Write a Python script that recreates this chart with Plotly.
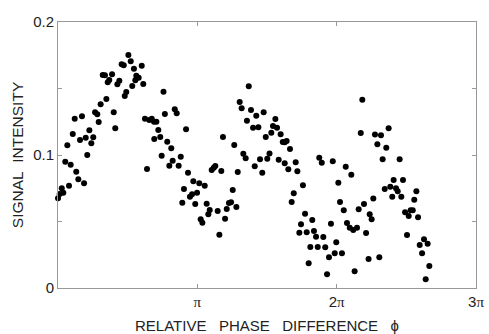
import plotly.graph_objects as go

# phase difference in units of pi, signal intensity
phase_over_pi = [
    0.000, 0.012, 0.027, 0.038, 0.079, 0.052, 0.091, 0.131, 0.146, 0.187,
    0.067, 0.106, 0.120, 0.172, 0.158, 0.199, 0.225, 0.210, 0.239, 0.253,
    0.266, 0.282, 0.292, 0.306, 0.347, 0.321, 0.337, 0.357, 0.368, 0.388,
    0.400, 0.411, 0.426, 0.440, 0.479, 0.490, 0.457, 0.472, 0.505, 0.522,
    0.545, 0.533, 0.562, 0.579, 0.555, 0.601, 0.612, 0.624, 0.639, 0.655,
    0.673, 0.689, 0.706, 0.720, 0.691, 0.734, 0.744, 0.757, 0.767, 0.784,
    0.813, 0.838, 0.852, 0.919, 0.823, 0.799, 0.866, 0.881, 0.933, 0.904,
    0.892, 0.947, 0.962, 0.985, 0.998, 0.971, 1.014, 1.053, 1.067, 1.089,
    1.079, 1.024, 1.036, 1.146, 1.158, 1.199, 1.211, 1.227, 1.242, 1.280,
    1.254, 1.103, 1.118, 1.129, 1.172, 1.184, 1.265, 1.290, 1.369, 1.304,
    1.318, 1.356, 1.385, 1.400, 1.423, 1.438, 1.476, 1.491, 1.330, 1.347,
    1.412, 1.450, 1.466, 1.502, 1.518, 1.531, 1.543, 1.560, 1.572, 1.598,
    1.613, 1.627, 1.641, 1.665, 1.584, 1.627, 1.653, 1.706, 1.718, 1.758,
    1.692, 1.677, 1.773, 1.744, 1.732, 1.785, 1.825, 1.837, 1.852, 1.811,
    1.864, 1.904, 1.918, 1.799, 1.945, 1.931, 1.959, 1.986, 1.997, 2.038,
    1.875, 1.893, 1.972, 2.012, 2.065, 2.105, 2.024, 2.051, 2.074, 2.094,
    2.119, 2.146, 2.158, 2.196, 2.211, 2.237, 2.251, 2.263, 2.184, 2.173,
    2.275, 2.129, 2.229, 2.292, 2.318, 2.330, 2.356, 2.373, 2.306, 2.452,
    2.345, 2.385, 2.399, 2.409, 2.426, 2.438, 2.464, 2.476, 2.491, 2.517,
    2.531, 2.546, 2.557, 2.572, 2.584, 2.505, 2.596, 2.613, 2.627, 2.653,
    2.665, 2.639,
]
intensity = [
    0.0674, 0.0707, 0.0750, 0.0717, 0.0769, 0.0950, 0.0927, 0.0874, 0.0817, 0.0787,
    0.1073, 0.1158, 0.1273, 0.1291, 0.1113, 0.1130, 0.1186, 0.1000, 0.1088, 0.1133,
    0.1321, 0.1306, 0.1248, 0.1381, 0.1421, 0.1602, 0.1599, 0.1547, 0.1564, 0.1607,
    0.1321, 0.1201, 0.1532, 0.1559, 0.1444, 0.1474, 0.1682, 0.1674, 0.1752, 0.1705,
    0.1649, 0.1519, 0.1596, 0.1581, 0.1562, 0.1671, 0.1534, 0.1273, 0.0895, 0.1263,
    0.1273, 0.1250, 0.1250, 0.1188, 0.1120, 0.1135, 0.0995, 0.1476, 0.1308, 0.1100,
    0.1050, 0.1344, 0.1314, 0.1193, 0.0957, 0.0920, 0.0920, 0.0987, 0.0867, 0.0744,
    0.0641, 0.0686, 0.0705, 0.0632, 0.0717, 0.0802, 0.0787, 0.0769, 0.0634, 0.0586,
    0.0554, 0.0517, 0.0491, 0.0579, 0.0401, 0.0521, 0.0594, 0.0639, 0.0644, 0.0609,
    0.0737, 0.0887, 0.0905, 0.0917, 0.0880, 0.1135, 0.1075, 0.0872, 0.1517, 0.1398,
    0.1351, 0.1258, 0.1338, 0.1205, 0.1295, 0.1208, 0.1321, 0.1135, 0.1010, 0.0975,
    0.0915, 0.0968, 0.0867, 0.0972, 0.1011, 0.1168, 0.1218, 0.1271, 0.1205, 0.1156,
    0.1098, 0.1095, 0.1105, 0.1045, 0.0965, 0.0938, 0.0892, 0.0945, 0.0877, 0.0772,
    0.0712, 0.0647, 0.0559, 0.0479, 0.0416, 0.0419, 0.0511, 0.0429, 0.0386, 0.0308,
    0.0308, 0.0383, 0.0306, 0.0186, 0.0231, 0.0103, 0.0483, 0.0261, 0.0344, 0.0261,
    0.0980, 0.0942, 0.0953, 0.0792, 0.0912, 0.0852, 0.0647, 0.0584, 0.0489, 0.0453,
    0.0436, 0.0453, 0.0592, 0.0632, 0.0414, 0.0554, 0.0517, 0.0673, 0.1416, 0.1165,
    0.1154, 0.0126, 0.0218, 0.1080, 0.1148, 0.0968, 0.1055, 0.1201, 0.0231, 0.0968,
    0.0744, 0.0762, 0.0686, 0.0812, 0.0750, 0.0727, 0.0686, 0.0812, 0.0569, 0.0541,
    0.0584, 0.0584, 0.0664, 0.0727, 0.0532, 0.0398, 0.0323, 0.0261, 0.0366, 0.0333,
    0.0165, 0.0065,
]

x_tickvals = [1, 2, 3]
x_ticktext = ["π", "2π", "3π"]
y_tickvals = [0, 0.05, 0.1, 0.15, 0.2]
y_ticktext = ["0", "", "0.1", "", "0.2"]

font_family = "Liberation Sans, Arial, sans-serif"
serif = "Liberation Serif, Times New Roman, serif"

def serif_pi(label):
    return label.replace("π", '<span style="font-family:%s">π</span>' % serif)

fig = go.Figure(
    go.Scatter(
        x=phase_over_pi,
        y=intensity,
        mode="markers",
        marker=dict(color="black", size=6),
        cliponaxis=False,
        showlegend=False,
    )
)

fig.update_layout(
    width=489,
    height=334,
    margin=dict(l=58, r=13, t=22, b=46),
    paper_bgcolor="white",
    plot_bgcolor="white",
    font=dict(family=font_family, size=15, color="#222"),
)

nb = "\u00a0"
fig.update_xaxes(
    range=[0, 3],
    tickmode="array",
    tickvals=x_tickvals,
    ticktext=[serif_pi(t) for t in x_ticktext],
    ticks="inside",
    ticklen=4,
    tickcolor="#999",
    showline=True,
    linecolor="#999",
    linewidth=1,
    mirror="ticks",
    showgrid=False,
    zeroline=False,
    automargin=False,
    tickfont=dict(size=15, color="#222"),
    title=dict(
        text="RELATIVE" + nb * 3 + "PHASE" + nb * 3 + "DIFFERENCE" + nb * 3 + "ϕ",
        font=dict(size=15, color="#222"),
        standoff=11,
    ),
)

fig.update_yaxes(
    range=[0, 0.2],
    tickmode="array",
    tickvals=y_tickvals,
    ticktext=y_ticktext,
    ticks="inside",
    ticklen=4,
    tickcolor="#999",
    showline=True,
    linecolor="#999",
    linewidth=1,
    mirror="ticks",
    showgrid=False,
    zeroline=False,
    automargin=False,
    tickfont=dict(size=15, color="#222"),
    ticklabelstandoff=0,
    title=dict(
        text="SIGNAL" + nb * 2 + "INTENSITY",
        font=dict(size=15.5, color="#222"),
        standoff=5,
    ),
)

fig.write_html(
    "out.html",
    config={"displayModeBar": False},
    post_script="document.body.style.margin='0';document.body.style.overflow='hidden';",
)
